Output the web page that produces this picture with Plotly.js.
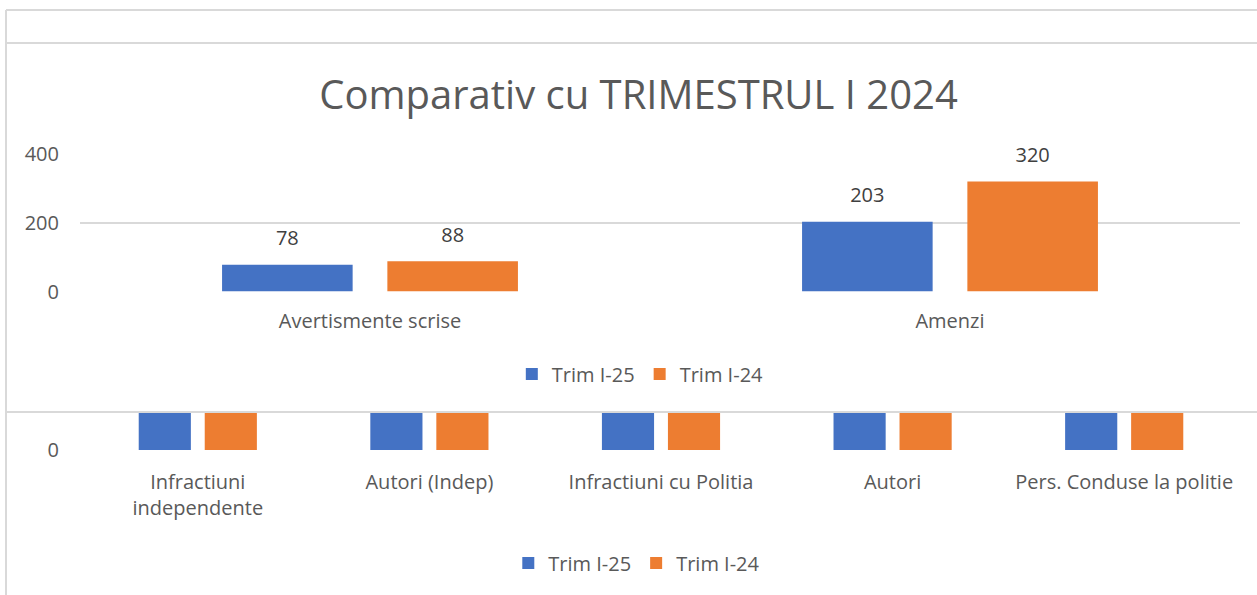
<!DOCTYPE html>
<html>
<head>
<meta charset="utf-8">
<script src="https://cdn.plot.ly/plotly-3.0.1.min.js"></script>
<style>html,body{margin:0;padding:0;background:#fff;}#chart{width:1257px;height:595px;}</style>
</head>
<body>
<div id="chart"></div>
<script>
// ---- data ----
var titleText = 'Comparativ cu TRIMESTRUL I 2024';
var seriesNames = ['Trim I-25', 'Trim I-24'];
var topCategories = ['Avertismente scrise', 'Amenzi'];
var topTrim25 = [78, 203];
var topTrim24 = [88, 320];
var topTickVals = [0, 200, 400];
var bottomCategories = ['Infractiuni<br>independente', 'Autori (Indep)', 'Infractiuni cu Politia', 'Autori', 'Pers. Conduse la politie'];
// bottom chart bars are cut off by the upper chart; values estimated
var bottomTrim25 = [30, 28, 14, 12, 40];
var bottomTrim24 = [35, 31, 16, 15, 45];
var bottomTickVals = [0];

// ---- style ----
var BLUE = '#4472C4', ORANGE = '#ED7D31', TXT = '#595959', GRID = '#D9D9D9';
var FONT = 'Open Sans, sans-serif';
var W = 1257, H = 595;
function px(x){return x/W;}
function py(y){return 1 - y/H;}

var labelFont = {family:FONT, size:20, color:'#404040'};
var traces = [
  {type:'bar', name:seriesNames[0], x:topCategories, y:topTrim25, marker:{color:BLUE}, xaxis:'x', yaxis:'y', legend:'legend', offsetgroup:'a', hoverinfo:'skip'},
  {type:'bar', name:seriesNames[1], x:topCategories, y:topTrim24, marker:{color:ORANGE}, xaxis:'x', yaxis:'y', legend:'legend', offsetgroup:'b', hoverinfo:'skip'},
  {type:'scatter', mode:'markers+text', x:topCategories, y:topTrim25, text:topTrim25.map(String), textposition:'top center', textfont:labelFont, marker:{size:22, opacity:0}, xaxis:'x', yaxis:'y', offsetgroup:'a', showlegend:false, cliponaxis:false, hoverinfo:'skip'},
  {type:'scatter', mode:'markers+text', x:topCategories, y:topTrim24, text:topTrim24.map(String), textposition:'top center', textfont:labelFont, marker:{size:22, opacity:0}, xaxis:'x', yaxis:'y', offsetgroup:'b', showlegend:false, cliponaxis:false, hoverinfo:'skip'},
  {type:'bar', name:seriesNames[0], x:bottomCategories, y:bottomTrim25, marker:{color:BLUE}, xaxis:'x2', yaxis:'y2', legend:'legend2', hoverinfo:'skip'},
  {type:'bar', name:seriesNames[1], x:bottomCategories, y:bottomTrim24, marker:{color:ORANGE}, xaxis:'x2', yaxis:'y2', legend:'legend2', hoverinfo:'skip'}
];

var lineStyle = {color:GRID, width:2};
var layout = {
  width:W, height:H,
  margin:{l:0, r:0, t:0, b:0},
  paper_bgcolor:'#fff', plot_bgcolor:'rgba(0,0,0,0)',
  font:{family:FONT, color:TXT, size:20},
  barmode:'group', bargap:0.43, bargroupgap:0.21,
  scattermode:'group', scattergap:0.43,
  title:{text:titleText, font:{family:FONT, size:40, color:TXT}, x:0.508, xanchor:'center', xref:'paper', y:py(95), yanchor:'middle', yref:'paper'},
  xaxis:{domain:[px(80), px(1240)], anchor:'y', showgrid:false, zeroline:false, showline:false, ticks:'', tickfont:{size:20, color:TXT}, ticklabelstandoff:15, fixedrange:true},
  yaxis:{domain:[py(291.5), py(154)], anchor:'x', range:[0,400], tickvals:topTickVals, showgrid:true, gridcolor:GRID, gridwidth:1.5, zeroline:false, showline:false, ticks:'', tickfont:{size:20, color:TXT}, ticklabelstandoff:20, fixedrange:true},
  xaxis2:{domain:[px(82), px(1240)], anchor:'y2', showgrid:false, zeroline:false, showline:false, ticks:'', tickfont:{size:20, color:TXT}, ticklabelstandoff:18, fixedrange:true},
  yaxis2:{domain:[py(450), py(412)], anchor:'x2', range:[0,10], tickvals:bottomTickVals, showgrid:true, gridcolor:GRID, gridwidth:2, zeroline:false, showline:false, ticks:'', tickfont:{size:20, color:TXT}, ticklabelstandoff:22, fixedrange:true},
  legend:{orientation:'h', x:0.5094, xanchor:'center', y:py(374), yanchor:'middle', font:{size:20, color:TXT}, bgcolor:'rgba(0,0,0,0)'},
  legend2:{orientation:'h', x:0.5066, xanchor:'center', y:py(563), yanchor:'middle', font:{size:20, color:TXT}, bgcolor:'rgba(0,0,0,0)'},
  shapes:[
    {type:'line', xref:'paper', yref:'paper', x0:px(6), x1:px(6), y0:py(10), y1:0, line:lineStyle},
    {type:'line', xref:'paper', yref:'paper', x0:px(6), x1:1, y0:py(10), y1:py(10), line:lineStyle},
    {type:'line', xref:'paper', yref:'paper', x0:px(6), x1:1, y0:py(43), y1:py(43), line:lineStyle},
    {type:'line', xref:'paper', yref:'paper', x0:px(6), x1:1, y0:py(412), y1:py(412), line:lineStyle}
  ]
};

Plotly.newPlot('chart', traces, layout, {staticPlot:true, displayModeBar:false});
</script>
</body>
</html>
